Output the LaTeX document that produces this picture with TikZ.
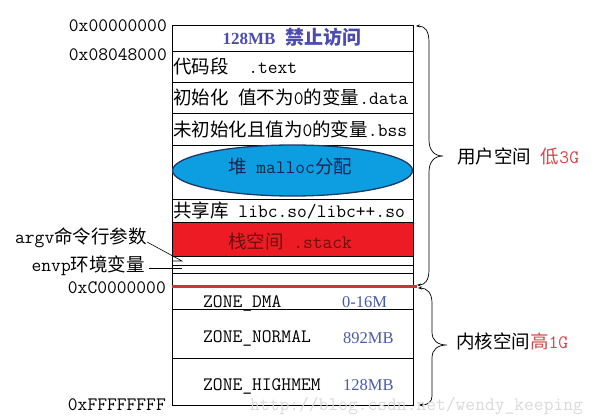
\documentclass[tikz,border=0pt]{standalone}
\usepackage{fontspec}
\newfontfamily\cjkf{Noto Sans CJK SC}
\newfontfamily\serf{Liberation Serif}
\usetikzlibrary{shapes.geometric,arrows.meta}
\newcommand\zh[1]{{\cjkf\fontsize{18.5}{22}\selectfont #1}}
\definecolor{navyt}{HTML}{1A2550}
\definecolor{heapblue}{HTML}{0C9EE0}
\definecolor{heapedge}{HTML}{1F3864}
\definecolor{stackred}{HTML}{ED1C24}
\definecolor{stacktxt}{HTML}{6B0F0F}
\definecolor{kline}{HTML}{C0393B}
\definecolor{titleblue}{HTML}{4B4BB0}
\definecolor{numblue}{HTML}{4A5AAA}
\definecolor{lred}{HTML}{D04848}
\definecolor{wmgray}{HTML}{DADADA}
\begin{document}
\begin{tikzpicture}[x=1pt,y=-1pt,
  cell/.style={draw=black, line width=0.9pt, minimum width=241pt, inner sep=0pt, anchor=north west},
  txt/.style={inner sep=0pt, font=\ttfamily\fontsize{19}{22}\selectfont},
  num/.style={inner sep=0pt, anchor=base west, text=numblue, font=\serf\fontsize{16.5}{20}\selectfont},
  brace/.style={line width=0.7pt, {Stealth[length=4pt,width=3pt]}-{Stealth[length=4pt,width=3pt]}}]
\useasboundingbox (0,0) rectangle (600,420);
% cells
\node[cell, minimum height=26pt] (c0) at (172,25) {};
\node[cell, minimum height=31pt] (c1) at (172,51) {};
\node[cell, minimum height=31pt] (c2) at (172,82) {};
\node[cell, minimum height=32pt] (c3) at (172,113) {};
\node[cell, minimum height=54pt] (c4) at (172,145) {};
\node[cell, minimum height=23pt] (c5) at (172,199) {};
\node[cell, minimum height=34pt, fill=stackred] (c6) at (172,222) {};
\node[cell, minimum height=9pt] (c7) at (172,256) {};
\node[cell, minimum height=8pt] (c8) at (172,265) {};
\node[cell, minimum height=13pt] (c9) at (172,273) {};
\node[cell, minimum height=23pt] (k0) at (172,286) {};
\node[cell, minimum height=49pt] (k1) at (172,309) {};
\node[cell, minimum height=47pt] (k2) at (172,358) {};
\node[ellipse, draw=heapedge, line width=1.3pt, fill=heapblue, minimum width=240pt, minimum height=51pt, inner sep=0pt] (heap) at (292.5,170.5) {};
\draw[kline, line width=3pt] (c9.south west) -- ([xshift=3pt]c9.south east);
% texts in the box
\node[txt, anchor=base, text=titleblue] (t0) at (292,45) {{\serf\bfseries\fontsize{17}{20}\selectfont 128MB}\hspace{10pt}{\cjkf\bfseries\fontsize{19}{22}\selectfont 禁止访问}};
\node[txt, anchor=base west] (t1) at (173,74) {\zh{代码段}\ \ .text};
\node[txt, anchor=base west] (t2) at (173,105) {\zh{初始化} \zh{值不为}0\zh{的变量}.data};
\node[txt, anchor=base west] (t3) at (173,136) {\zh{未初始化且值为}0\zh{的变量}.bss};
\node[txt, anchor=base, text=navyt] (t4) at (290,173) {\zh{堆} malloc\zh{分配}};
\node[txt, anchor=base west] (t5) at (173,217) {\zh{共享库} libc.so/libc++.so};
\node[txt, anchor=base, text=stacktxt] (t6) at (290,248) {\zh{栈空间} .stack};
\node[txt, anchor=base west] (z0) at (203,307) {ZONE\_DMA};
\node[txt, anchor=base west] (z1) at (203,342) {ZONE\_NORMAL};
\node[txt, anchor=base west] (z2) at (203,390) {ZONE\_HIGHMEM};
\node[num] (n0) at (342,307) {0-16M};
\node[num] (n1) at (343,343) {892MB};
\node[num] (n2) at (343,390) {128MB};
% left labels
\node[txt, anchor=base east] (a0) at (167,32) {0x00000000};
\node[txt, anchor=base east] (a1) at (167,60) {0x08048000};
\node[txt, anchor=base east] (argv) at (147,243) {argv\zh{命令行参数}};
\node[txt, anchor=base east] (envp) at (145,271) {envp\zh{环境变量}};
\node[txt, anchor=base east] (a2) at (166,293) {0xC0000000};
\node[txt, anchor=base east] (a3) at (166,410) {0xFFFFFFFF};
\coordinate (argvEnd) at (182,261);
\coordinate (envpEnd) at (182,268);
\draw[line width=0.6pt] ([yshift=1pt]argv.base east) -- (argvEnd) -- ++(-10,0);
\draw[line width=0.8pt] ([xshift=4pt,yshift=3pt]envp.base east) -- (envpEnd);
% braces
\draw[brace] (416,26) .. controls (425,26) and (429,31) .. (429,42) -- (429,140) .. controls (429,150) and (434,156) .. (443,156) .. controls (434,156) and (429,162) .. (429,172) -- (429,270) .. controls (429,280) and (425,285) .. (417,285);
\draw[brace] (418,288) .. controls (427,288) and (432,293) .. (432,303) -- (432,332) .. controls (432,341) and (438,345) .. (447,345) .. controls (438,345) and (432,349) .. (432,358) -- (432,396) .. controls (432,402) and (428,405) .. (419,405);
\node[txt, anchor=base west] (us) at (457,163) {\zh{用户空间} \textcolor{lred}{\zh{低}3G}};
\node[txt, anchor=base west] (ks) at (456,348) {\zh{内核空间}\textcolor{lred}{\zh{高}1G}};
% watermark
\node[txt, anchor=base west, text=wmgray] (wm) at (250,410) {http://blog.csdn.net/wendy\_keeping};
\end{tikzpicture}
\end{document}
